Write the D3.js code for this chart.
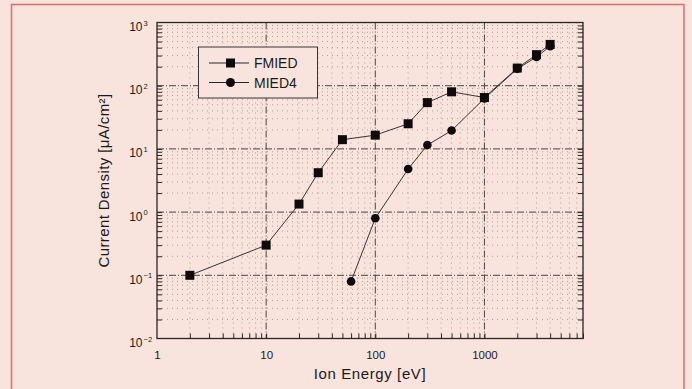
<!DOCTYPE html>
<html><head><meta charset="utf-8">
<script src="https://cdn.jsdelivr.net/npm/d3@7"></script>
<style>
html,body{margin:0;padding:0;background:#f8e4dc;}
svg{display:block;}
text{font-family:"Liberation Sans",Arial,sans-serif;fill:#1a1a1a;}
</style></head>
<body>
<svg id="c" width="692" height="389"></svg>
<script>
// ---- data ----
const seriesNames = ["FMIED", "MIED4"];
const fmiedEnergy = [2, 10, 20, 30, 50, 100, 200, 300, 500, 1000, 2000, 3000, 4000];
const fmiedCurrent = [0.1, 0.3, 1.34, 4.2, 14, 16.5, 25, 54, 80, 65, 190, 310, 450];
const mied4Energy = [60, 100, 200, 300, 500, 1000, 2000, 3000, 4000];
const mied4Current = [0.08, 0.8, 4.8, 11.5, 19.5, 63, 185, 285, 420];
const xTickValues = [1, 10, 100, 1000];
const xTickLabels = ["1", "10", "100", "1000"];
const yTickExponents = [-2, -1, 0, 1, 2, 3];
const xTitle = "Ion Energy [eV]";
const yTitle = "Current Density [μA/cm²]";

const svg = d3.select("#c");
// page border
svg.append("rect").attr("x", 11.5).attr("y", 4.5).attr("width", 672.5).attr("height", 400)
  .attr("fill", "#f8e4dc").attr("stroke", "#df6a74").attr("stroke-width", 1.5);

const L = 157, R = 583, T = 22.5, B = 338.5;
const x = d3.scaleLog().domain([1, 8000]).range([L, R]);
const y = d3.scaleLog().domain([0.01, 1000]).range([B, T]);

const g = svg.append("g");

// grid values
const xMinor = [], xMajor = [];
for (let e = 0; e <= 3; e++) for (let m = 1; m <= 9; m++) {
  const v = m * Math.pow(10, e);
  if (v > 8000) continue;
  if (m === 1) { if (v > 1) xMajor.push(v); } else xMinor.push(v);
}
const yMinor = [], yMajor = [];
for (let e = -2; e <= 2; e++) for (let m = 1; m <= 9; m++) {
  const v = m * Math.pow(10, e);
  if (m === 1) { if (e > -2) yMajor.push(v); } else yMinor.push(v);
}
g.selectAll(".xmin").data(xMinor).enter().append("line")
  .attr("x1", d => x(d)).attr("x2", d => x(d)).attr("y1", T).attr("y2", B)
  .attr("stroke", "#9a8f8c").attr("stroke-width", 0.8).attr("stroke-dasharray", "1,4");
g.selectAll(".ymin").data(yMinor).enter().append("line")
  .attr("y1", d => y(d)).attr("y2", d => y(d)).attr("x1", L).attr("x2", R)
  .attr("stroke", "#9a8f8c").attr("stroke-width", 0.8).attr("stroke-dasharray", "1,4");
g.selectAll(".xmaj").data(xMajor).enter().append("line")
  .attr("x1", d => x(d)).attr("x2", d => x(d)).attr("y1", T).attr("y2", B)
  .attr("stroke", "#4a4444").attr("stroke-width", 1).attr("stroke-dasharray", "7,2,1,2");
g.selectAll(".ymaj").data(yMajor).enter().append("line")
  .attr("y1", d => y(d)).attr("y2", d => y(d)).attr("x1", L).attr("x2", R)
  .attr("stroke", "#4a4444").attr("stroke-width", 1).attr("stroke-dasharray", "7,2,1,2");

// frame
g.append("rect").attr("x", L).attr("y", T).attr("width", R - L).attr("height", B - T)
  .attr("fill", "none").attr("stroke", "#2a2626").attr("stroke-width", 1.3);

// axes ticks (inward)
const xAxis = d3.axisBottom(x).tickValues(xMinor.concat(xMajor)).tickSizeInner(-5).tickSizeOuter(0).tickFormat("");
const xa = svg.append("g").attr("transform", `translate(0,${B})`).call(xAxis);
xa.select(".domain").remove();
xa.selectAll("line").attr("stroke", "#2a2626");
const yAxis = d3.axisLeft(y).tickValues(yMinor.concat(yMajor)).tickSizeInner(-5).tickSizeOuter(0).tickFormat("");
const ya = svg.append("g").attr("transform", `translate(${L},0)`).call(yAxis);
ya.select(".domain").remove();
ya.selectAll("line").attr("stroke", "#2a2626");
const yAxisR = d3.axisRight(y).tickValues(yMinor.concat(yMajor)).tickSizeInner(-5).tickSizeOuter(0).tickFormat("");
const yr = svg.append("g").attr("transform", `translate(${R},0)`).call(yAxisR);
yr.select(".domain").remove();
yr.selectAll("line").attr("stroke", "#2a2626");

// x tick labels
svg.selectAll(".xl").data(xTickValues).enter().append("text")
  .attr("x", d => x(d) + 0.5).attr("y", 358.5).attr("text-anchor", "middle")
  .attr("font-size", 11.5).text((d, i) => xTickLabels[i]);

// y tick labels
yTickExponents.forEach(e => {
  const ty = y(Math.pow(10, e));
  svg.append("text").attr("x", 142.5).attr("y", ty + 8.5)
    .attr("text-anchor", "end").attr("font-size", 12).text("10");
  svg.append("text").attr("x", 143.5).attr("y", ty + 3)
    .attr("font-size", 7.5).text(e < 0 ? "−" + (-e) : String(e));
});

// titles
svg.append("text").attr("x", 370).attr("y", 379).attr("text-anchor", "middle")
  .attr("font-size", 15).attr("letter-spacing", 0.6).text(xTitle);
svg.append("text").attr("transform", `translate(108.5,${(T + B) / 2}) rotate(-90)`)
  .attr("text-anchor", "middle").attr("font-size", 15).attr("letter-spacing", 0.4).text(yTitle);

// series
const fmied = fmiedEnergy.map((v, i) => [v, fmiedCurrent[i]]);
const mied4 = mied4Energy.map((v, i) => [v, mied4Current[i]]);
const line = d3.line().x(d => x(d[0])).y(d => y(d[1]));
[fmied, mied4].forEach(s => {
  svg.append("path").datum(s).attr("d", line).attr("fill", "none")
    .attr("stroke", "#3a3434").attr("stroke-width", 1);
});
svg.selectAll(".sq").data(fmied).enter().append("rect")
  .attr("x", d => x(d[0]) - 4.5).attr("y", d => y(d[1]) - 4.5)
  .attr("width", 9).attr("height", 9).attr("fill", "#0d0b0b");
svg.selectAll(".ci").data(mied4).enter().append("circle")
  .attr("cx", d => x(d[0])).attr("cy", d => y(d[1])).attr("r", 4.3).attr("fill", "#0d0b0b");

// legend
const lg = svg.append("g");
lg.append("rect").attr("x", 198.5).attr("y", 47).attr("width", 119).attr("height", 51)
  .attr("fill", "#f8e4dc").attr("stroke", "#3a3434").attr("stroke-width", 1);
[0, 1].forEach(i => {
  const yy = 63 + i * 19.5;
  lg.append("line").attr("x1", 209).attr("x2", 249).attr("y1", yy).attr("y2", yy)
    .attr("stroke", "#2a2626").attr("stroke-width", 1);
  if (i === 0) lg.append("rect").attr("x", 226).attr("y", yy - 4.5).attr("width", 9).attr("height", 9).attr("fill", "#0d0b0b");
  else lg.append("circle").attr("cx", 230.5).attr("cy", yy).attr("r", 4.5).attr("fill", "#0d0b0b");
  lg.append("text").attr("x", 254).attr("y", yy + 5).attr("font-size", 14).text(seriesNames[i]);
});
</script>
</body></html>
